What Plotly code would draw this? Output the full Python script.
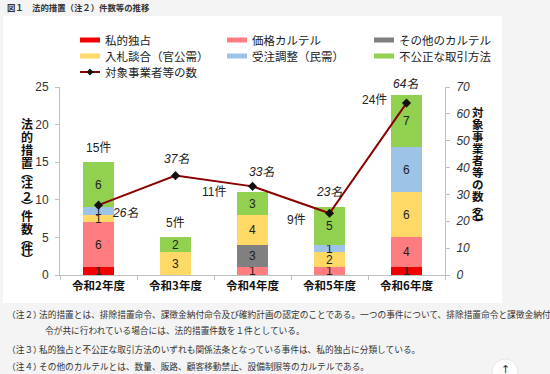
import plotly.graph_objects as go

# ---------------- data ----------------
categories = ["令和2年度", "令和3年度", "令和4年度", "令和5年度", "令和6年度"]
series_names = ["私的独占", "価格カルテル", "その他のカルテル",
                "入札談合（官公需）", "受注調整（民需）", "不公正な取引方法"]
private_monopoly = [1, 0, 0, 0, 1]
price_cartel = [6, 0, 1, 1, 4]
other_cartel = [0, 0, 3, 0, 0]
bid_rigging_public = [1, 3, 4, 2, 6]
order_adjust_private = [1, 0, 0, 1, 6]
unfair_trade = [6, 2, 3, 5, 7]
businesses = [26, 37, 33, 23, 64]
line_name = "対象事業者等の数"
left_ticks = [0, 5, 10, 15, 20, 25]
right_ticks = [0, 10, 20, 30, 40, 50, 60, 70]

series_values = [private_monopoly, price_cartel, other_cartel,
                 bid_rigging_public, order_adjust_private, unfair_trade]
totals = [sum(v) for v in zip(*series_values)]

# ---------------- style ----------------
colors = ["#f00000", "#ff7c80", "#808080", "#ffd966", "#9dc3e6", "#92d050"]
line_color = "#8b0000"
JP = "Noto Sans CJK JP"
NUM = "Liberation Sans, Noto Sans CJK JP"
W, H = 550, 374
# plot area in screen pixels
L, R, T, B = 60, 445, 87, 275


def px(x):
    return (x - L) / (R - L)


def py(y):
    return (B - y) / (B - T)


fig = go.Figure()

for name, vals, col in zip(series_names, series_values, colors):
    fig.add_trace(go.Bar(
        x=categories, y=vals, name=name, marker=dict(color=col, line=dict(width=0)),
        text=[str(v) if v else "" for v in vals], textposition="inside",
        insidetextanchor="middle", textangle=0, constraintext="none",
        textfont=dict(size=12, color="#222222", family=NUM),
        width=0.39, showlegend=False, hoverinfo="skip"))

fig.add_trace(go.Scatter(
    x=categories, y=businesses, yaxis="y2", name=line_name,
    mode="lines+markers", line=dict(color=line_color, width=2),
    marker=dict(symbol="diamond", size=7, color="#111111"),
    showlegend=False, hoverinfo="skip"))

ann = []
shapes = []

# white chart box
shapes.append(dict(type="rect", xref="paper", yref="paper", x0=px(3), x1=px(502),
                   y0=py(303), y1=py(16), fillcolor="white", line=dict(width=0),
                   layer="below"))

# bar total labels (offsets in px relative to bar top)
total_offsets = [(0, 14), (0, 14), (-39, 0), (-33, -13), (-32, -5)]
for c, t, (dx, dy) in zip(categories, totals, total_offsets):
    ann.append(dict(x=c, y=t, xref="x", yref="y", text=f"{t}件", showarrow=False,
                    xshift=dx, yshift=dy, xanchor="center", yanchor="middle",
                    font=dict(size=12, color="#222222", family=NUM)))

# line value labels
line_offsets = [(26, -8), (1, 17), (9, 14), (-1, 21), (-1, 19)]
for c, v, (dx, dy) in zip(categories, businesses, line_offsets):
    ann.append(dict(x=c, y=v, xref="x", yref="y2", text=f"{v}名", showarrow=False,
                    xshift=dx, yshift=dy, xanchor="center", yanchor="middle",
                    font=dict(size=12, color="#222222", family=NUM, style="italic")))


# vertical titles (stacked characters)
def vtext(chars, xc, yc, full, half, size):
    hs = [half if ch in "︵︶" else full for ch in chars]
    total = sum(hs)
    y = yc - total / 2
    for ch, h in zip(chars, hs):
        cy = y + h / 2
        ann.append(dict(x=px(xc), y=py(cy), xref="paper", yref="paper", text=ch,
                        showarrow=False, xanchor="center", yanchor="middle",
                        font=dict(size=size, color="#111111", family=JP, weight="bold")))
        y += h


vtext("法的措置︵注２︶件数︵件︶", 27, 189, 13, 7, 12)
vtext("対象事業者等の数︵名︶", 478, 166, 12, 6, 11.5)

# manual legend
leg_cols = [80, 227, 374]
leg_rows = [40, 56, 72]
for i, (name, col) in enumerate(zip(series_names, colors)):
    x0 = leg_cols[i % 3]
    yc = leg_rows[i // 3]
    shapes.append(dict(type="rect", xref="paper", yref="paper", x0=px(x0), x1=px(x0 + 20),
                       y0=py(yc + 2.5), y1=py(yc - 2.5), fillcolor=col, line=dict(width=0)))
    ann.append(dict(x=px(x0 + 23), y=py(yc), xref="paper", yref="paper", text=name,
                    showarrow=False, xanchor="left", yanchor="middle",
                    font=dict(size=11.5, color="#222222", family=JP)))
x0, yc = leg_cols[0], leg_rows[2]
shapes.append(dict(type="line", xref="paper", yref="paper", x0=px(x0), x1=px(x0 + 20),
                   y0=py(yc), y1=py(yc), line=dict(color=line_color, width=2)))
shapes.append(dict(type="path", xref="paper", yref="paper",
                   path=f"M {px(x0+10)} {py(yc-3.5)} L {px(x0+13.5)} {py(yc)} "
                        f"L {px(x0+10)} {py(yc+3.5)} L {px(x0+6.5)} {py(yc)} Z",
                   fillcolor="#111111", line=dict(width=0)))
ann.append(dict(x=px(x0 + 23), y=py(yc), xref="paper", yref="paper", text=line_name,
                showarrow=False, xanchor="left", yanchor="middle",
                font=dict(size=11.5, color="#222222", family=JP)))

# page title
ann.append(dict(x=px(5), y=py(7), xref="paper", yref="paper",
                text="図１　法的措置（注２）件数等の推移", showarrow=False,
                xanchor="left", yanchor="middle",
                font=dict(size=8.4, color="#333333", family=JP, weight="bold")))

# notes
notes = [
    (5, 314, "（注２）"),
    (37, 314, "法的措置とは、排除措置命令、課徴金納付命令及び確約計画の認定のことである。一つの事件について、排除措置命令と課徴金納付命令"),
    (43, 330, "令が共に行われている場合には、法的措置件数を１件としている。"),
    (5, 349, "（注３）"),
    (37, 349, "私的独占と不公正な取引方法のいずれも関係法条となっている事件は、私的独占に分類している。"),
    (5, 366, "（注４）"),
    (37, 366, "その他のカルテルとは、数量、販路、顧客移動禁止、設備制限等のカルテルである。"),
]
for nx, ny, txt in notes:
    ann.append(dict(x=px(nx), y=py(ny), xref="paper", yref="paper", text=txt,
                    showarrow=False, xanchor="left", yanchor="middle",
                    font=dict(size=8.7, color="#333333", family=JP)))

# scroll-to-top button
shapes.append(dict(type="circle", xref="paper", yref="paper",
                   x0=px(492), x1=px(518), y0=py(385), y1=py(359),
                   fillcolor="white", line=dict(color="#e6e6e6", width=1)))
ann.append(dict(x=px(505), y=py(369), xref="paper", yref="paper", text="↑",
                showarrow=False, xanchor="center", yanchor="middle",
                font=dict(size=11, color="#333333", family="DejaVu Sans")))

axis_common = dict(showline=True, linecolor="#bfbfbf", linewidth=1, ticks="outside",
                   ticklen=4, tickcolor="#bfbfbf", showgrid=False, zeroline=False)

fig.update_layout(
    width=W, height=H, autosize=False,
    margin=dict(l=L, r=W - R, t=T, b=H - B, pad=0),
    paper_bgcolor="#f4f4f4", plot_bgcolor="rgba(0,0,0,0)",
    barmode="stack", bargap=0.6,
    uniformtext=dict(minsize=12, mode="show"),
    showlegend=False,
    xaxis=dict(type="category", categoryorder="array", categoryarray=categories,
               range=[-0.5, 4.5], tickson="boundaries",
               tickfont=dict(size=11.5, color="#111111", family=JP, weight="bold"),
               **axis_common),
    yaxis=dict(range=[0, 25], tickvals=left_ticks, ticklabelstandoff=4,
               tickfont=dict(size=12, color="#333333", family=NUM), **axis_common),
    yaxis2=dict(range=[0, 70], tickvals=right_ticks, overlaying="y", side="right",
                ticklabelstandoff=4,
                tickfont=dict(size=12, color="#333333", family=NUM, style="italic"),
                **axis_common),
    annotations=ann, shapes=shapes,
)

fig.write_html(
    "out.html",
    config={"displayModeBar": False, "staticPlot": True},
    post_script="document.body.style.margin='0';document.body.style.overflow='hidden';",
)
